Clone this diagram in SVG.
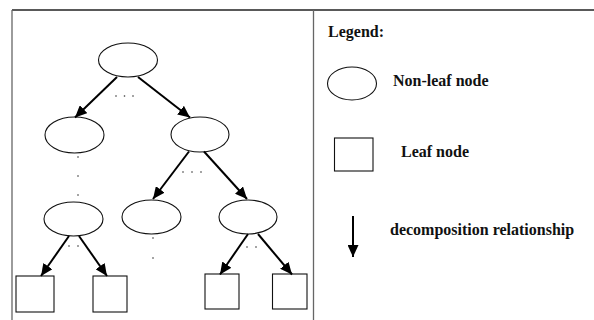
<svg xmlns="http://www.w3.org/2000/svg" width="594" height="320" viewBox="0 0 594 320">
  <style>
    .node { fill: #fff; stroke: #111; stroke-width: 1.1; }
    .edge { stroke: #000; stroke-width: 2; fill: none; }
    .dot { fill: #333; }
    .frame { stroke: #666; stroke-width: 1.3; fill: none; }
    .label { font-family: "Liberation Serif", "Times New Roman", serif; font-weight: bold; font-size: 16px; fill: #111; }
  </style>
  <defs>
    <marker id="head" markerUnits="userSpaceOnUse" markerWidth="13" markerHeight="11" refX="12" refY="5.5" orient="auto">
      <path d="M0,0 L12,5.5 L0,11 Z" fill="#000"/>
    </marker>
  </defs>
  <rect width="594" height="320" fill="#fff"/>

  <!-- table frame -->
  <g id="frame">
    <line x1="12" y1="10" x2="594" y2="10" stroke="#222" stroke-width="1.4"/>
    <line class="frame" x1="12" y1="10" x2="12" y2="320"/>
    <line class="frame" x1="313.5" y1="10" x2="313.5" y2="320"/>
  </g>

  <!-- tree nodes -->
  <g id="root"><ellipse class="node" cx="128" cy="60" rx="29.5" ry="17"/></g>
  <g id="n-left"><ellipse class="node" cx="74.5" cy="135" rx="29.5" ry="18"/></g>
  <g id="n-right"><ellipse class="node" cx="200" cy="134.5" rx="29" ry="17.5"/></g>
  <g id="n-left-low"><ellipse class="node" cx="73.5" cy="219" rx="29.5" ry="17"/></g>
  <g id="n-mid-low"><ellipse class="node" cx="151.5" cy="217" rx="29.5" ry="17"/></g>
  <g id="n-right-low"><ellipse class="node" cx="248" cy="217" rx="29" ry="17"/></g>
  <g id="leaf1"><rect class="node" x="16" y="276" width="38" height="36"/></g>
  <g id="leaf2"><rect class="node" x="93" y="276" width="34" height="36"/></g>
  <g id="leaf3"><rect class="node" x="205" y="274" width="34" height="35"/></g>
  <g id="leaf4"><rect class="node" x="272.5" y="274" width="34.5" height="35"/></g>

  <!-- decomposition connectors -->
  <g id="connectors">
    <line class="edge" x1="117" y1="77" x2="75" y2="117.5" marker-end="url(#head)"/>
    <line class="edge" x1="138" y1="77" x2="190" y2="117.5" marker-end="url(#head)"/>
    <line class="edge" x1="189" y1="151.5" x2="153" y2="199" marker-end="url(#head)"/>
    <line class="edge" x1="204" y1="151.5" x2="247" y2="199" marker-end="url(#head)"/>
    <line class="edge" x1="69" y1="236" x2="41" y2="276" marker-end="url(#head)"/>
    <line class="edge" x1="79" y1="236" x2="107" y2="276" marker-end="url(#head)"/>
    <line class="edge" x1="248" y1="234" x2="220" y2="274.5" marker-end="url(#head)"/>
    <line class="edge" x1="258" y1="234" x2="292" y2="274.5" marker-end="url(#head)"/>
  </g>

  <!-- elision dots -->
  <g id="ellipsis-dots">
    <circle class="dot" cx="116" cy="96" r="0.8"/>
    <circle class="dot" cx="124.5" cy="96" r="0.8"/>
    <circle class="dot" cx="133" cy="96" r="0.8"/>
    <circle class="dot" cx="78" cy="157" r="0.8"/>
    <circle class="dot" cx="78" cy="176" r="0.8"/>
    <circle class="dot" cx="78" cy="195" r="0.8"/>
    <circle class="dot" cx="183" cy="172" r="0.8"/>
    <circle class="dot" cx="192" cy="172" r="0.8"/>
    <circle class="dot" cx="201" cy="172" r="0.8"/>
    <circle class="dot" cx="69" cy="246" r="0.8"/>
    <circle class="dot" cx="78" cy="246" r="0.8"/>
    <circle class="dot" cx="153" cy="238" r="0.8"/>
    <circle class="dot" cx="153" cy="258" r="0.8"/>
    <circle class="dot" cx="247" cy="247" r="0.8"/>
    <circle class="dot" cx="256" cy="247" r="0.8"/>
  </g>

  <!-- legend -->
  <g id="legend">
    <text class="label" x="328" y="37">Legend:</text>
    <g id="legend-nonleaf">
      <ellipse class="node" cx="352" cy="83.5" rx="24.5" ry="16.5"/>
      <text class="label" x="393" y="86">Non-leaf node</text>
    </g>
    <g id="legend-leaf">
      <rect class="node" x="334.5" y="138" width="38.5" height="33"/>
      <text class="label" x="401" y="157">Leaf node</text>
    </g>
    <g id="legend-edge">
      <line class="edge" x1="353" y1="216" x2="353" y2="257" marker-end="url(#head)"/>
      <text class="label" x="390" y="235">decomposition relationship</text>
    </g>
  </g>
</svg>
